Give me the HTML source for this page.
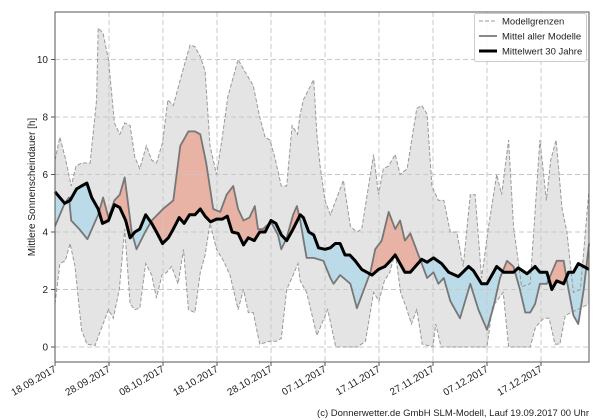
<!DOCTYPE html>
<html><head><meta charset="utf-8"><style>
html,body{margin:0;padding:0;background:#fff;}
svg{display:block;font-family:"Liberation Sans","DejaVu Sans",sans-serif;}
</style></head><body>
<svg id="s" width="600" height="420" xmlns="http://www.w3.org/2000/svg"></svg>
<script>
const X0=55,PX=5.4,Y0=347,PY=28.75;
const X=d=>X0+d*PX, Y=v=>Y0-v*PY;
const up=[[0,6.5],[0.9,7.3],[2,6.5],[3,5.6],[3.9,6.3],[4.9,6.4],[6.5,6.4],[7.7,8.6],[8,11.1],[8.9,10.9],[9.9,10],[11,7.8],[12,7.4],[12.9,7.8],[13.9,7.7],[14.8,6.6],[15.7,6.2],[16.9,7.0],[17.9,6.5],[18.8,6.4],[19.9,7.1],[20.9,8.6],[21.9,8.4],[23.2,9.3],[25,10.5],[25.9,10.45],[26.9,10.1],[27.8,9.6],[28.7,7.0],[29.9,6.0],[30.9,7.2],[32,8.7],[33.9,10],[35.1,9.6],[36.7,9.1],[37.9,8.0],[38.9,7.3],[39.8,7.2],[40.7,6.6],[41.9,5.6],[42.9,5.6],[43.9,7.7],[44.9,7.4],[45.4,8.1],[46,8.6],[47.9,9.3],[48.5,7.4],[49.1,6.3],[50,5.1],[51,4.6],[53.4,5.8],[54.7,4.2],[55.9,4.0],[56.8,4.1],[59,6.7],[59.9,5.3],[60.8,6.2],[61.8,6.3],[63,6.7],[63.9,6.0],[65.2,6.2],[67,8.3],[67.9,8.4],[68.9,8.1],[69.8,5.6],[71,5.1],[72,5.1],[73.2,4.0],[74.4,4.0],[75.6,2.8],[76.9,5.3],[77.8,5.3],[79,2.4],[80.3,4.2],[81.8,6.0],[82.7,5.3],[84,7.2],[84.9,4.2],[86.4,2.1],[88,2.2],[89.8,7.2],[91,5.1],[91.8,6.5],[92.8,7.2],[93.9,4.8],[94.8,4.0],[96,1.9],[97.3,2.0],[98.9,5.5]];
const lo=[[0,1.5],[0.9,2.9],[1.9,3.0],[2.8,3.6],[3.7,2.8],[4.9,0.6],[5.9,0.1],[7.4,0.05],[8.3,0.5],[9.9,1.3],[10.8,1.0],[11.9,2.0],[12.9,4.1],[13.9,1.5],[14.8,1.3],[15.7,1.35],[16.8,2.9],[17.9,2.5],[18.8,1.7],[19.8,2.5],[20.7,2.6],[21.6,2.8],[22.8,2.2],[23.8,3.4],[24.7,1.3],[25.9,1.2],[26.9,2.6],[27.8,3.2],[28.7,4.3],[29.9,3.4],[31.2,3.0],[32.4,2.5],[33.9,1.3],[34.9,2.0],[35.8,1.2],[36.7,1.2],[37.9,0.1],[39.8,0.2],[41,0.2],[41.9,0.3],[42.9,2.0],[44.1,2.5],[45,2.9],[45.4,2.3],[46.6,1.9],[48.5,0.4],[50.5,1.3],[52,0],[56,0],[57.5,0.2],[59,1.9],[60,1.6],[61,2.3],[62,2.6],[63,3.3],[64,1.9],[65,1.4],[66,0.8],[67,1.3],[68,0.1],[70,0],[70.5,0.8],[71.5,0],[80,0],[81,1.4],[83,1.9],[84,0],[88,0],[89,0.7],[90.5,1.0],[91.5,1.0],[92.6,0.1],[93.5,0.1],[94.5,1.1],[98.9,1.5]];
const mn=[[0,4.2],[1.8,5.0],[2.6,5.2],[3,4.4],[4.5,4.1],[6,3.75],[8,4.6],[8.9,5.2],[9.9,4.5],[11,5.1],[12,5.3],[12.9,5.9],[14.2,4.0],[15.1,3.4],[16.7,4.0],[17.9,4.4],[20,4.8],[21.9,5.1],[23.2,7.0],[24.7,7.5],[25.9,7.5],[26.9,7.4],[28,6.4],[29.3,4.8],[30.6,4.7],[31.8,5.3],[33,5.6],[33.9,4.8],[34.9,4.4],[36,4.5],[37,4.9],[37.6,4.1],[38.5,4.1],[40,4.35],[41.3,3.9],[41.9,3.4],[42.9,3.8],[44.1,4.6],[44.8,4.9],[45.4,4.4],[46.6,3.1],[47.9,3.1],[49.7,3.0],[51,2.4],[51.6,2.2],[52.8,2.5],[54.7,2.2],[55.9,1.35],[58.4,2.6],[59.3,3.4],[60.5,3.7],[61.8,4.7],[63,4.1],[63.9,4.4],[64.8,3.7],[65.8,3.95],[67.9,2.9],[68.9,2.4],[70.1,2.6],[71,2.2],[72,2.4],[73.2,1.6],[75,1.0],[76.9,2.2],[78.4,1.3],[80,0.6],[81.2,1.4],[82.4,2.4],[83.7,3.0],[84.9,2.8],[86.1,2.0],[87.1,1.2],[88,1.2],[88.9,1.5],[89.8,2.2],[91.1,2.2],[92.9,3.0],[94.2,3.0],[94.8,2.3],[96,1.1],[96.9,0.8],[97.9,2.0],[98.9,3.6]];
const bk=[[0,5.4],[1.8,5.0],[2.8,5.1],[4,5.5],[4.9,5.6],[5.9,5.7],[6.8,5.2],[8,4.8],[8.8,4.3],[9.9,4.4],[11,4.95],[12,4.85],[13.1,4.4],[13.9,3.8],[14.8,4.0],[15.7,4.1],[16.8,4.6],[17.9,4.3],[18.8,4.0],[19.9,3.6],[21,3.8],[21.9,4.1],[23,4.5],[23.9,4.3],[24.9,4.6],[25.9,4.6],[26.9,4.8],[27.8,4.55],[28.8,4.35],[29.9,4.45],[31,4.45],[31.9,4.55],[32.8,4.0],[33.9,3.95],[34.9,3.55],[35.8,3.8],[36.9,3.7],[37.9,4.0],[38.9,4.0],[40,4.4],[40.9,4.3],[41.9,3.9],[42.9,3.7],[44.1,4.1],[45.4,4.6],[46,4.5],[47,4.0],[47.9,3.9],[48.8,3.45],[50,3.4],[51,3.45],[51.9,3.6],[52.8,3.6],[53.7,3.2],[54.6,3.2],[55.6,3.0],[56.8,2.7],[58.7,2.5],[59.9,2.7],[61.1,2.8],[62.1,3.0],[63,3.2],[63.9,2.9],[64.8,2.6],[65.8,2.6],[67.9,3.05],[68.9,2.95],[70.1,3.1],[71.6,2.9],[72.9,2.6],[74.7,2.45],[76.6,2.8],[77.5,2.65],[79,2.2],[80,2.2],[81.8,2.8],[83.1,2.6],[84.9,2.6],[85.8,2.75],[87.4,2.55],[88.9,2.8],[89.8,2.6],[91.1,2.6],[92,2.0],[92.9,2.3],[94.2,2.2],[95.1,2.6],[96,2.6],[96.9,2.9],[97.9,2.8],[98.9,2.7]];
function interp(a,d){for(let i=1;i<a.length;i++){if(d<=a[i][0]){const t=(d-a[i-1][0])/(a[i][0]-a[i-1][0]||1);return a[i-1][1]+t*(a[i][1]-a[i-1][1]);}}return a[a.length-1][1];}
const pts=a=>a.map(p=>X(p[0]).toFixed(1)+','+Y(p[1]).toFixed(1)).join(' ');
let h='';
// gray band
h+=`<polygon points="${pts(up)} ${pts(lo.slice().reverse())}" fill="#e4e4e4"/>`;
// red/blue fills
const ds=[];for(let d=0;d<=98.9;d+=0.05)ds.push(d);ds.push(98.9);
let rt=[],bt=[],bb=[];
ds.forEach(d=>{const m=interp(mn,d),b=interp(bk,d);rt.push([d,Math.max(m,b)]);bt.push([d,Math.min(m,b)]);bb.push([d,b]);});
const bbr=pts(bb.slice().reverse());
h+=`<polygon points="${pts(rt)} ${bbr}" fill="#e8b2a4"/>`;
h+=`<polygon points="${pts(bt)} ${bbr}" fill="#bcdbe9"/>`;
// grid
let g='';
for(let v=0;v<=10;v+=2){g+=`<line x1="55" x2="589" y1="${Y(v)}" y2="${Y(v)}"/>`;}
for(let i=1;i<10;i++){g+=`<line y1="12" y2="362" x1="${X(i*10)}" x2="${X(i*10)}"/>`;}
h+=`<g stroke="#c8c8c8" stroke-width="1" stroke-dasharray="5,3">${g}</g>`;
// bounds
h+=`<polyline points="${pts(up)}" fill="none" stroke="#999" stroke-width="1" stroke-dasharray="4,2"/>`;
h+=`<polyline points="${pts(lo)}" fill="none" stroke="#999" stroke-width="1" stroke-dasharray="4,2"/>`;
h+=`<polyline points="${pts(mn)}" fill="none" stroke="#777" stroke-width="1.8" stroke-linejoin="round"/>`;
h+=`<polyline points="${pts(bk)}" fill="none" stroke="#000" stroke-width="3" stroke-linejoin="round"/>`;
// axes frame
h+=`<rect x="55" y="12" width="534" height="350" fill="none" stroke="#555" stroke-width="1"/>`;
// y ticks
for(let v=0;v<=10;v+=2){h+=`<line x1="51" x2="55" y1="${Y(v)}" y2="${Y(v)}" stroke="#555"/><text x="48" y="${Y(v)+3.5}" font-size="10" text-anchor="end" fill="#222">${v}</text>`;}
const labs=['18.09.2017','28.09.2017','08.10.2017','18.10.2017','28.10.2017','07.11.2017','17.11.2017','27.11.2017','07.12.2017','17.12.2017'];
labs.forEach((l,i)=>{const x=X(i*10);h+=`<line x1="${x}" x2="${x}" y1="362" y2="366" stroke="#555"/><text transform="translate(${x+2},371) rotate(-30)" font-size="10" text-anchor="end" fill="#222">${l}</text>`;});
h+=`<text transform="translate(35,187) rotate(-90)" font-size="10" text-anchor="middle" fill="#222">Mittlere Sonnenscheindauer [h]</text>`;
h+=`<text x="589" y="416" font-size="9.5" text-anchor="end" fill="#222">(c) Donnerwetter.de GmbH SLM-Modell, Lauf 19.09.2017 00 Uhr</text>`;
// legend
h+=`<rect x="474.5" y="13.5" width="112" height="48" rx="2" fill="#fff" fill-opacity="0.85" stroke="#ccc"/>`;
h+=`<line x1="479" x2="497" y1="21" y2="21" stroke="#999" stroke-dasharray="4,2"/><text x="502" y="24.5" font-size="9.5" fill="#222">Modellgrenzen</text>`;
h+=`<line x1="479" x2="497" y1="36" y2="36" stroke="#777" stroke-width="1.8"/><text x="502" y="39.5" font-size="9.5" fill="#222">Mittel aller Modelle</text>`;
h+=`<line x1="479" x2="497" y1="51" y2="51" stroke="#000" stroke-width="3"/><text x="502" y="54.5" font-size="9.5" fill="#222">Mittelwert 30 Jahre</text>`;
document.getElementById('s').innerHTML=h;
</script>
</body></html>
